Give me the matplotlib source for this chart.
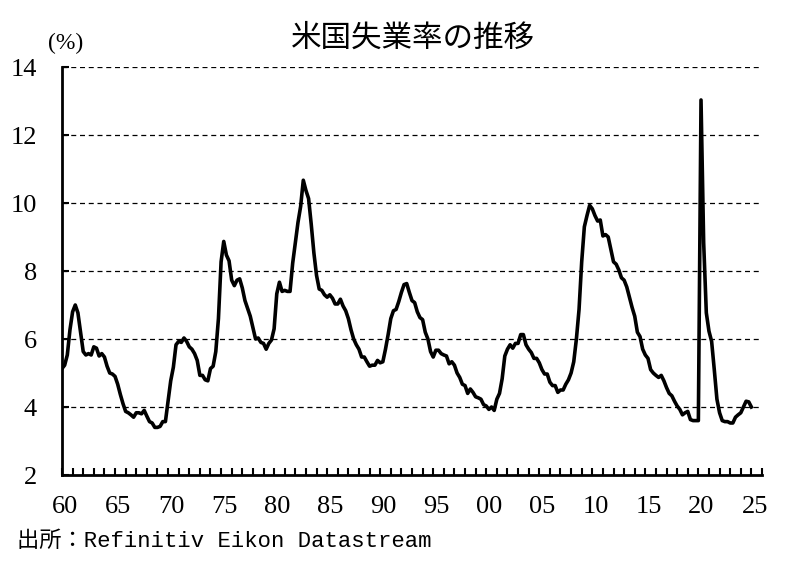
import numpy as np
import matplotlib
matplotlib.use("Agg")
import matplotlib.pyplot as plt
from matplotlib.ticker import MultipleLocator

# ── Data: US unemployment rate, quarterly (%), 1960Q1 - 2025Q1 ────────────────
start_year = 1960
rate_1960s = [5.13, 5.23, 5.53, 6.27,  6.80, 7.00, 6.77, 6.20,
              5.63, 5.53, 5.57, 5.53,  5.77, 5.73, 5.50, 5.57,
              5.47, 5.20, 5.00, 4.97,  4.90, 4.67, 4.37, 4.10,
              3.87, 3.83, 3.77, 3.70,  3.83, 3.83, 3.80, 3.90,
              3.73, 3.57, 3.53, 3.40,  3.40, 3.43, 3.57, 3.57]
rate_1970s = [4.17, 4.77, 5.17, 5.83,  5.93, 5.90, 6.03, 5.93,
              5.77, 5.70, 5.57, 5.37,  4.93, 4.93, 4.80, 4.77,
              5.13, 5.20, 5.63, 6.60,  8.27, 8.87, 8.47, 8.30,
              7.73, 7.57, 7.73, 7.77,  7.50, 7.13, 6.90, 6.67,
              6.33, 6.00, 6.03, 5.90,  5.87, 5.70, 5.87, 5.97]
rate_1980s = [6.30, 7.33, 7.67, 7.40,  7.43, 7.40, 7.40, 8.23,
              8.83, 9.43, 9.90, 10.67, 10.37, 10.13, 9.37, 8.53,
              7.87, 7.47, 7.43, 7.30,  7.23, 7.30, 7.20, 7.03,
              7.03, 7.17, 6.97, 6.83,  6.60, 6.27, 6.00, 5.83,
              5.70, 5.47, 5.47, 5.33,  5.20, 5.23, 5.23, 5.37]
rate_1990s = [5.30, 5.33, 5.70, 6.13,  6.60, 6.83, 6.87, 7.10,
              7.37, 7.60, 7.63, 7.37,  7.13, 7.07, 6.80, 6.63,
              6.57, 6.20, 6.00, 5.63,  5.47, 5.67, 5.67, 5.57,
              5.53, 5.50, 5.27, 5.33,  5.23, 5.00, 4.87, 4.67,
              4.63, 4.40, 4.53, 4.43,  4.30, 4.27, 4.23, 4.07]
rate_2000s = [4.03, 3.93, 4.00, 3.90,  4.23, 4.40, 4.83, 5.50,
              5.70, 5.83, 5.73, 5.87,  5.87, 6.13, 6.13, 5.83,
              5.70, 5.60, 5.43, 5.43,  5.30, 5.10, 4.97, 4.97,
              4.73, 4.63, 4.63, 4.43,  4.50, 4.50, 4.67, 4.80,
              5.00, 5.33, 6.00, 6.87,  8.27, 9.30, 9.63, 9.93]
rate_2010s = [9.83, 9.63, 9.47, 9.50,  9.03, 9.07, 9.00, 8.63,
              8.27, 8.20, 8.03, 7.80,  7.73, 7.53, 7.23, 6.93,
              6.67, 6.20, 6.07, 5.70,  5.53, 5.43, 5.10, 5.00,
              4.93, 4.87, 4.93, 4.77,  4.57, 4.40, 4.33, 4.17,
              4.03, 3.93, 3.77, 3.83,  3.87, 3.63, 3.60, 3.60]
rate_2020s = [3.60, 13.03, 8.83, 6.77,  6.23, 5.93, 5.10, 4.23,
              3.83, 3.60, 3.57, 3.57,  3.53, 3.53, 3.70, 3.77,
              3.83, 4.00, 4.17, 4.15,  4.00]

rate = np.array(rate_1960s + rate_1970s + rate_1980s + rate_1990s
                + rate_2000s + rate_2010s + rate_2020s)
t = start_year + np.arange(len(rate)) / 4.0

year_labels = ["60", "65", "70", "75", "80", "85", "90", "95", "00",
               "05", "10", "15", "20", "25"]
label_years = np.arange(1960, 2026, 5)
y_ticks = [2, 4, 6, 8, 10, 12, 14]

# ── Figure ────────────────────────────────────────────────────────────────────
fig = plt.figure(figsize=(7.97, 5.62), dpi=100)
ax = fig.add_axes([62 / 797, 87 / 562, 700 / 797, 408 / 562])

for v in y_ticks[1:]:
    ax.axhline(v, color="black", linestyle=(0, (4, 3)), linewidth=0.9, zorder=1)

ax.plot(t, rate, color="black", linewidth=2.6, solid_joinstyle="round", zorder=3)

ax.set_xlim(1960, 2026)
ax.set_ylim(2, 14)
ax.set_yticks(y_ticks)
ax.set_yticklabels([str(v) for v in y_ticks], family="Liberation Serif", fontsize=19)
ax.xaxis.set_major_locator(MultipleLocator(1))
ax.set_xticklabels([])
ax.tick_params(axis="x", direction="in", length=5, width=1.5, color="black")
ax.tick_params(axis="y", direction="in", length=5, width=1.5, color="black", pad=18)

for s in ["top", "right"]:
    ax.spines[s].set_visible(False)
for s in ["left", "bottom"]:
    ax.spines[s].set_linewidth(2)

for yr, lab in zip(label_years, year_labels):
    ax.text(yr + 0.3, 2 - 0.95, lab, ha="center", va="center",
            family="Liberation Serif", fontsize=19, clip_on=False)

fig.text(413 / 797, 1 - 38 / 562, "米国失業率の推移", ha="center", va="center",
         family=["Noto Sans CJK JP", "DejaVu Sans"], fontsize=22)
fig.text(66 / 797, 1 - 43 / 562, "(%)", ha="center", va="center",
         family="Liberation Serif", fontsize=17)
fig.text(17 / 797, 1 - 541 / 562, "出所：Refinitiv Eikon Datastream", ha="left", va="center",
         family=["Liberation Mono", "Noto Sans CJK JP"], fontsize=16)

fig.savefig("out.png", dpi=100)
